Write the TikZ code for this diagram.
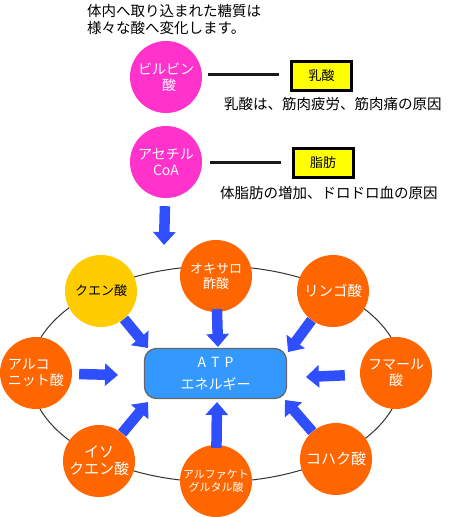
\documentclass[tikz,border=0pt]{standalone}
\usepackage{fontspec}
\setmainfont{Noto Sans CJK JP}
\usetikzlibrary{arrows.meta}
\definecolor{pinkc}{HTML}{FF33CC}
\definecolor{orangec}{HTML}{FF6600}
\definecolor{yellowc}{HTML}{FFCC00}
\definecolor{atpblue}{HTML}{3399FF}
\definecolor{arrowblue}{HTML}{2F4FFF}
\definecolor{boxyellow}{HTML}{FFFF00}
\newcommand{\fs}[2]{\fontsize{#1}{#2}\selectfont}
\tikzset{
  ball/.style={circle, minimum size=72pt, inner sep=0pt, text=white, align=center, font=\fs{14}{16}},
  pinkball/.style={ball, fill=pinkc},
  orangeball/.style={ball, fill=orangec},
  yellowball/.style={ball, fill=yellowc, text=black},
  tagbox/.style={draw=black, line width=3pt, fill=boxyellow, minimum width=60pt, minimum height=29pt, inner sep=0pt, font=\fs{13}{15}},
  link/.style={line width=3pt, draw=black!90},
  bigarrow/.style={draw=arrowblue, line width=10.5pt, -{Triangle[width=22pt,length=13pt]}, arrowblue},
  note/.style={inner sep=0pt, font=\fs{14.5}{17}, align=left}
}
\begin{document}
\begin{tikzpicture}[x=1pt,y=-1pt]
\useasboundingbox (0,0) rectangle (468,517);
% top note
\node[note, anchor=north west] (intro) at (87,4) {体内へ取り込まれた糖質は\\様々な酸へ変化します。};
% pink circles
\node[pinkball] (pyr) at (166,77) {ビルビン\\\hspace{6pt}酸};
\node[pinkball] (acoa) at (166,162) {アセチル\\CoA};
% yellow tags
\node[tagbox] (lac) at (321.5,76) {乳酸};
\node[tagbox] (fat) at (323,163) {脂肪};
\draw[link, shorten <=6pt, shorten >=11pt] ([yshift=3pt]pyr.east) -- ([yshift=3pt]pyr.east -| lac.west);
\draw[link, shorten <=8pt, shorten >=11pt] (acoa.east) -- (acoa.east -| fat.west);
\node[note, anchor=west] (lacnote) at (224,104) {乳酸は、筋肉疲労、筋肉痛の原因};
\node[note, anchor=west] (fatnote) at (220,193) {体脂肪の増加、ドロドロ血の原因};
% cycle ellipse
\draw[line width=1pt, draw=black!80] (216,374) ellipse [x radius=186pt, y radius=108pt];
% ATP box
\node[draw=black!60, line width=1.3pt, fill=atpblue, rounded corners=12pt, minimum width=142pt, minimum height=50pt, inner sep=0pt, text=white, align=center, font=\fs{14}{22}] (atp) at (215.5,373.5) {A\hspace{5pt}T\hspace{5pt}P\\エネルギー};
% cycle circles
\node[orangeball, font=\fs{13}{15}] (oxa) at (216,276) {オキサロ\\酢酸};
\node[yellowball, font=\fs{13}{15}] (cit) at (101,291) {クエン酸};
\node[orangeball, font=\fs{14.5}{16}] (mal) at (333,291) {リンゴ酸};
\node[orangeball, align=left] (aco) at (36,373) {アルコ\\ニット酸};
\node[orangeball] (fum) at (396,373) {フマール\\酸};
\node[orangeball, font=\fs{15}{17}] (iso) at (99,461) {イソ\\クエン酸};
\node[orangeball, font=\fs{11}{13}] (akg) at (216,481) {アルファケト\\グルタル酸};
\node[orangeball, font=\fs{15}{17}] (suc) at (336,459) {コハク酸};
% arrow tips
\coordinate (t0) at (164,245);
\coordinate (t1) at (148,348);
\coordinate (t2) at (218,347);
\coordinate (t3) at (288,352);
\coordinate (t4) at (118,375);
\coordinate (t5) at (306,377);
\coordinate (t6) at (148,402);
\coordinate (t7) at (217,402);
\coordinate (t8) at (285,400);
\draw[bigarrow, shorten <=8pt] (acoa) -- (t0);
\draw[bigarrow] (cit) -- (t1);
\draw[bigarrow, shorten <=-3pt] (oxa) -- (t2);
\draw[bigarrow] (mal) -- (t3);
\draw[bigarrow, shorten <=7pt] (aco) -- (t4);
\draw[bigarrow, shorten <=15pt] (fum) -- (t5);
\draw[bigarrow] (iso) -- (t6);
\draw[bigarrow, shorten <=-3pt] (akg) -- (t7);
\draw[bigarrow] (suc) -- (t8);
\end{tikzpicture}
\end{document}
